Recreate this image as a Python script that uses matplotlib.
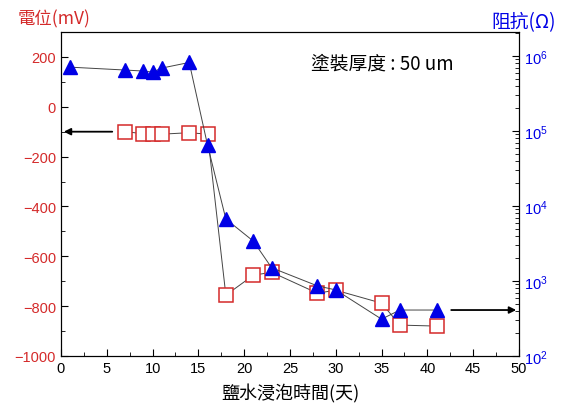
import numpy as np
import matplotlib.pyplot as plt
from matplotlib.ticker import MultipleLocator, LogLocator

plt.rcParams['font.family'] = ['Liberation Sans', 'Noto Sans CJK TC', 'DejaVu Sans']

# immersion days and readings
days_pot = [7, 9, 10, 11, 14, 16, 18, 21, 23, 28, 30, 35, 37, 41]
potential = [-100, -108, -108, -110, -104, -110, -756, -676, -664, -748, -736, -788, -876, -880]

days_imp = [1, 7, 9, 10, 11, 14, 16, 18, 21, 23, 28, 30, 35, 37, 41]
impedance = [7.1e5, 6.5e5, 6.3e5, 6.1e5, 6.9e5, 8.2e5, 6.5e4, 6.7e3, 3.4e3, 1.5e3,
             860, 760, 310, 410, 410]

red = '#d42a2a'
blue = '#0000e6'
cjk = ['Noto Sans CJK TC', 'DejaVu Sans']

fig = plt.figure(figsize=(5.63, 4.10), dpi=100)
ax = fig.add_axes([0.1083, 0.1293, 0.8135, 0.7902])
ax2 = ax.twinx()

# potential on the left axis
ax.plot(days_pot, potential, color='#444444', lw=0.7, zorder=1)
ax.plot(days_pot, potential, ls='none', marker='s', ms=9.5, mfc='white',
        mec=red, mew=1.1, zorder=3)
ax.set_xlim(0, 50)
ax.set_ylim(-1000, 300)
ax.xaxis.set_major_locator(MultipleLocator(5))
ax.xaxis.set_minor_locator(MultipleLocator(2.5))
ax.set_yticks([-1000, -800, -600, -400, -200, 0, 200])
ax.yaxis.set_minor_locator(MultipleLocator(100))
ax.tick_params(axis='both', which='both', direction='in', labelsize=10.5)
ax.tick_params(axis='y', labelcolor=red)
ax.tick_params(which='major', length=5)
ax.tick_params(which='minor', length=3)

# impedance on the right axis (log scale)
ax2.plot(days_imp, impedance, color='#444444', lw=0.7, zorder=1)
ax2.plot(days_imp, impedance, ls='none', marker='^', ms=10, color=blue, zorder=3)
ax2.set_yscale('log')
ax2.set_ylim(1e2, 10 ** 6.32)
ax2.yaxis.set_major_locator(LogLocator(base=10, numticks=10))
ax2.yaxis.set_minor_locator(LogLocator(base=10, subs=np.arange(2, 10), numticks=10))
ax2.tick_params(axis='y', which='both', direction='in', labelcolor=blue, labelsize=10.5)
ax2.tick_params(which='major', length=5)
ax2.tick_params(which='minor', length=3)

# arrows pointing to the matching axis
ax.annotate('', xy=(0, -100), xytext=(5.9, -100),
            arrowprops=dict(arrowstyle='-|>', color='black', lw=1.3, mutation_scale=10))
ax2.annotate('', xy=(50, 410), xytext=(42.3, 410),
             arrowprops=dict(arrowstyle='-|>', color='black', lw=1.3, mutation_scale=10))

ax.text(0.545, 0.905, '塗裝厚度 : 50 um', transform=ax.transAxes, fontsize=13.5,
        family=cjk, ha='left', va='center')
fig.text(0.032, 0.952, '電位(mV)', color=red, fontsize=12.5, family=cjk, va='center')
fig.text(0.987, 0.945, '阻抗(Ω)', color=blue, fontsize=13.5, family=cjk,
         va='center', ha='right')
ax.set_xlabel('鹽水浸泡時間(天)', fontsize=13, family=cjk, labelpad=6)

fig.savefig('out.png', dpi=100)
